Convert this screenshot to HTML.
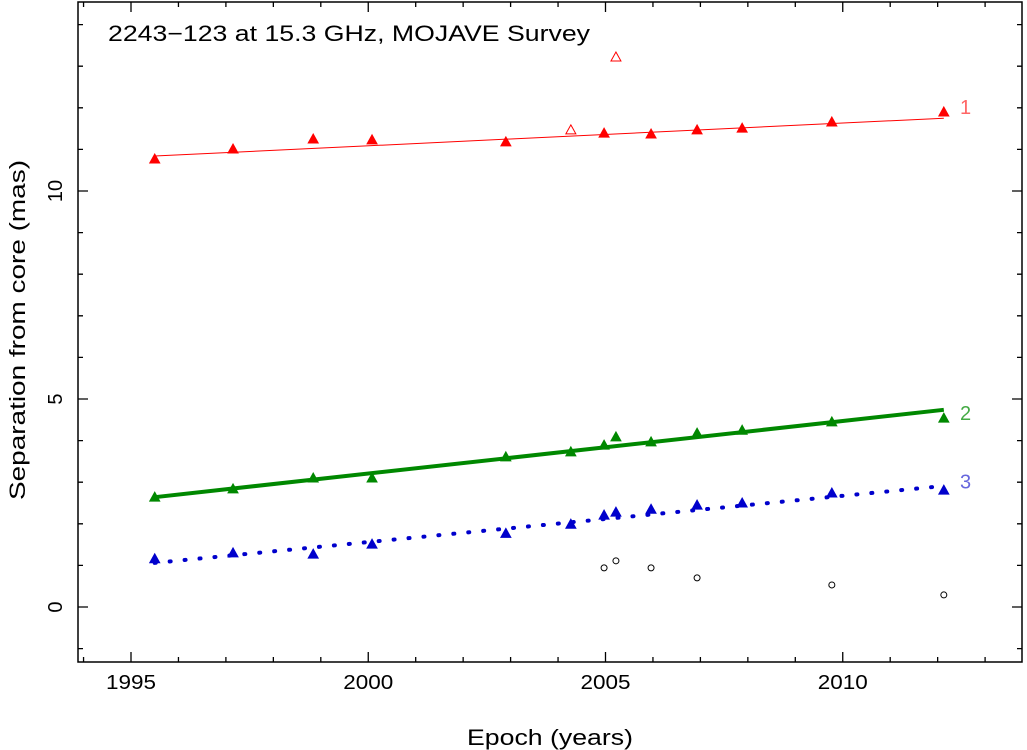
<!DOCTYPE html>
<html><head><meta charset="utf-8"><style>
body{margin:0;background:#fff}
svg{display:block;font-family:"Liberation Sans","DejaVu Sans",sans-serif}
</style></head><body>
<svg id="c" width="1027" height="750"></svg>
<script>
const years1=[1995.5,1997.15,1998.84,2000.08,2002.9,2004.97,2005.96,2006.93,2007.88,2009.77,2012.13];
const sep1=[10.77,11.01,11.25,11.23,11.18,11.39,11.37,11.47,11.51,11.66,11.9];
const years1open=[2004.27,2005.22];
const sep1open=[11.47,13.22];
const fit1=[[1995.5,10.84],[2012.13,11.75]];
const years2=[1995.5,1997.15,1998.84,2000.08,2002.9,2004.27,2004.97,2005.22,2005.96,2006.93,2007.88,2009.77,2012.13];
const sep2=[2.64,2.84,3.10,3.10,3.61,3.73,3.89,4.09,3.97,4.18,4.25,4.45,4.54];
const fit2=[[1995.5,2.64],[2012.13,4.74]];
const years3=[1995.5,1997.15,1998.84,2000.08,2002.9,2004.27,2004.97,2005.22,2005.96,2006.93,2007.88,2009.77,2012.13];
const sep3=[1.16,1.3,1.27,1.51,1.77,1.99,2.21,2.28,2.35,2.45,2.5,2.74,2.81];
const fit3=[[1995.5,1.06],[2012.13,2.91]];
const yearsCore=[2004.97,2005.22,2005.96,2006.93,2009.77,2012.13];
const sepCore=[0.94,1.11,0.94,0.70,0.53,0.29];
const xTicks=[1995,2000,2005,2010];
const yTicks=[0,5,10];

const L=78,R=1022,T=2,B=662;
const X=v=>131+(v-1995)*47.45;
const Y=v=>607-v*41.6;
const svg=document.getElementById('c');
const NS='http://www.w3.org/2000/svg';
function mk(t,a){const e=document.createElementNS(NS,t);for(const k in a)e.setAttribute(k,a[k]);svg.appendChild(e);return e;}
let e=mk('rect',{x:L,y:T,width:R-L,height:B-T,fill:'none',stroke:'#000','stroke-width':1.5});


for(let yr=1994;yr<=2013;yr++){const x=X(yr);if(x<L||x>R)continue;const maj=yr%5==0;const len=maj?10:5;
 e=mk('path',{d:`M${x},${B}v${-len}M${x},${T}v${len}`,stroke:'#000','stroke-width':1.3});
 
 }
for(let v=-1;v<=14;v++){const y=Y(v);if(y<T||y>B)continue;const maj=v%5==0;const len=maj?10:5;
 e=mk('path',{d:`M${L},${y}h${len}M${R},${y}h${-len}`,stroke:'#000','stroke-width':1.3});
 
 }
xTicks.forEach(t=>{e=mk('text',{x:X(t),y:689,'font-size':20,'text-anchor':'middle',textLength:50,lengthAdjust:'spacingAndGlyphs'});e.textContent=t;
 
 });
yTicks.forEach(t=>{e=mk('text',{x:0,y:0,'font-size':20,'text-anchor':'middle',transform:`translate(62,${Y(t)}) rotate(-90)`});e.textContent=t;
 
 });
e=mk('text',{x:467,y:745,'font-size':22,textLength:166,lengthAdjust:'spacingAndGlyphs'});e.textContent='Epoch (years)';


e=mk('text',{x:0,y:0,'font-size':22,'text-anchor':'middle',textLength:340,lengthAdjust:'spacingAndGlyphs',transform:'translate(25,330) rotate(-90)'});e.textContent='Separation from core (mas)';


e=mk('text',{x:108,y:41,'font-size':22,textLength:482,lengthAdjust:'spacingAndGlyphs'});e.textContent='2243\u2212123 at 15.3 GHz, MOJAVE Survey';


function line(f,col,w,dash,name){e=mk('line',{x1:X(f[0][0]),y1:Y(f[0][1]),x2:X(f[1][0]),y2:Y(f[1][1]),stroke:col,'stroke-width':w});
 if(dash){e.setAttribute('stroke-dasharray',dash);e.setAttribute('stroke-linecap','round');}
 
 }
line(fit1,'#f00',1,null,'fit-line-1');
line(fit2,'#080',4,null,'fit-line-2');
line(fit3,'#00c',4,'1 14','fit-line-3');
function tri(xs,ys,col,fill,name){xs.forEach((v,i)=>{const x=X(v),y=Y(ys[i]);
 e=mk('path',{d:`M${x},${y-5}L${x+5},${y+4}L${x-5},${y+4}Z`,fill:fill?col:'none',stroke:col,'stroke-width':1});
 
 });}
tri(years1,sep1,'#f00',true,'point-comp-1');
tri(years1open,sep1open,'#f00',false,'point-comp-1-open');
tri(years2,sep2,'#080',true,'point-comp-2');
tri(years3,sep3,'#00c',true,'point-comp-3');
yearsCore.forEach((v,i)=>{e=mk('circle',{cx:X(v),cy:Y(sepCore[i]),r:3,fill:'none',stroke:'#000','stroke-width':1});
 
 });
[['1',Y(11.9),'#f66'],['2',Y(4.54),'#4a4'],['3',Y(2.9),'#66d']].forEach(([t,y,c])=>{
 e=mk('text',{x:960,y:y+2,'font-size':20,fill:c});e.textContent=t;
 
 });
</script>
</body></html>
